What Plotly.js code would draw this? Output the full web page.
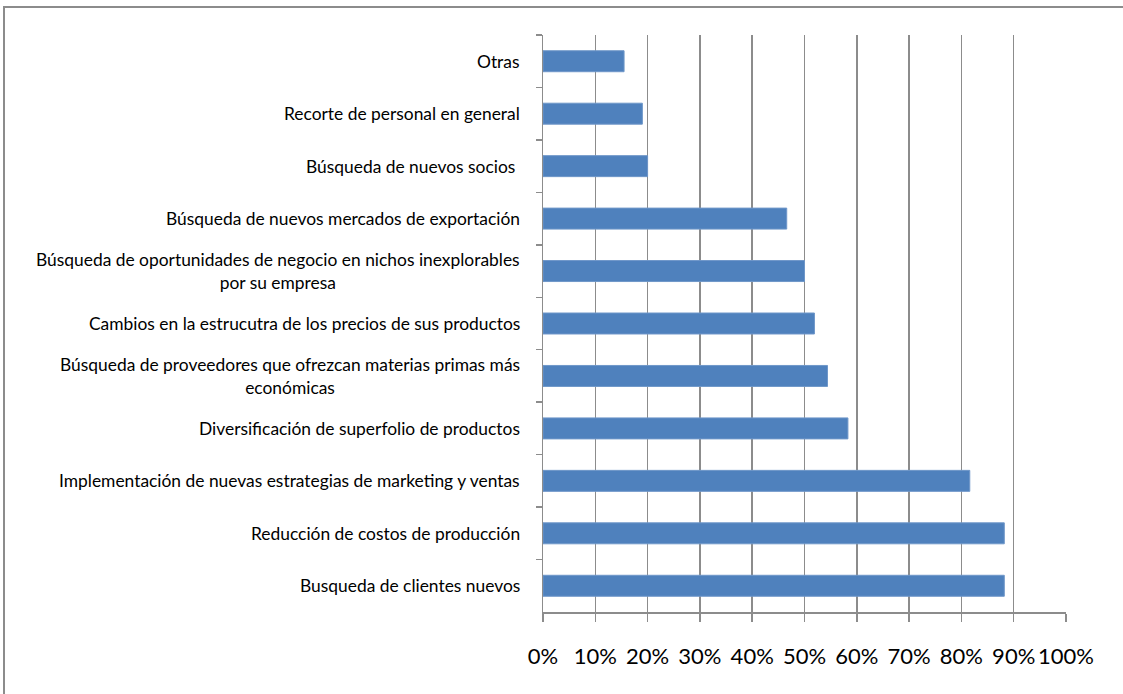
<!DOCTYPE html>
<html>
<head>
<meta charset="utf-8">
<script src="https://cdn.plot.ly/plotly-3.0.1.min.js"></script>
<style>
  html, body { margin: 0; padding: 0; background: #ffffff; }
  #chart { width: 1123px; height: 694px; }
</style>
</head>
<body>
<div id="chart"></div>
<script>
// Strategies listed top to bottom, with the share of firms that use each (%)
const categories = [
  "Otras",
  "Recorte de personal en general",
  "Búsqueda de nuevos socios ",
  "Búsqueda de nuevos mercados de exportación",
  "Búsqueda de oportunidades de negocio en nichos inexplorables<br>por su empresa",
  "Cambios en la estrucutra de los precios de sus productos",
  "Búsqueda de proveedores que ofrezcan materias primas más<br>económicas",
  "Diversificación de superfolio de productos",
  "Implementación de nuevas estrategias de marketing y ventas",
  "Reducción de costos de producción",
  "Busqueda de clientes nuevos"
];
const values = [15.5, 19, 20, 46.6, 50, 51.9, 54.4, 58.3, 81.6, 88.2, 88.2];
const xTicks = [0, 10, 20, 30, 40, 50, 60, 70, 80, 90, 100];

const gridGray = "#8c8c8c";
const labelFont = { family: "Lato, 'Open Sans', sans-serif", size: 17.4, color: "#000000" };

const trace = {
  type: "bar",
  orientation: "h",
  x: values,
  y: categories,
  marker: { color: "#4F81BD", line: { color: "#6f97c9", width: 1 } },
  hoverinfo: "x+y"
};

// Category labels drawn as annotations so wrapped lines stay centred
const labelAnnotations = categories.map(c => ({
  xref: "paper", yref: "y",
  x: -0.040, y: c,
  xanchor: "right", yanchor: "middle",
  align: "center",
  text: c,
  showarrow: false,
  font: labelFont
}));

const layout = {
  width: 1123,
  height: 694,
  margin: { l: 543, r: 57, t: 35, b: 82 },
  paper_bgcolor: "#ffffff",
  plot_bgcolor: "#ffffff",
  showlegend: false,
  bargap: 0.6,
  xaxis: {
    range: [0, 100],
    tickvals: xTicks,
    ticktext: xTicks.map(v => v + "%"),
    showgrid: true,
    gridcolor: gridGray,
    gridwidth: 1.5,
    zeroline: false,
    showline: true,
    linecolor: gridGray,
    linewidth: 1.5,
    ticks: "outside",
    ticklen: 8,
    tickwidth: 1.5,
    tickcolor: gridGray,
    ticklabelstandoff: 16,
    tickfont: { family: "Lato, 'Open Sans', sans-serif", size: 22, color: "#000000" },
    fixedrange: true
  },
  yaxis: {
    type: "category",
    autorange: "reversed",
    showticklabels: false,
    showgrid: false,
    zeroline: false,
    showline: true,
    linecolor: gridGray,
    linewidth: 1.5,
    ticks: "outside",
    tickson: "boundaries",
    ticklen: 6,
    tickwidth: 1.5,
    tickcolor: gridGray,
    fixedrange: true
  },
  annotations: labelAnnotations,
  shapes: [{
    // outer chart-area frame
    type: "rect",
    xref: "paper", yref: "paper",
    x0: -1.0306, x1: 1.2,
    y0: -0.2, y1: 1.0485,
    line: { color: "#8c8c8c", width: 2 },
    fillcolor: "rgba(0,0,0,0)",
    layer: "below"
  }]
};

Plotly.newPlot("chart", [trace], layout, { displayModeBar: false, staticPlot: true });
</script>
</body>
</html>
